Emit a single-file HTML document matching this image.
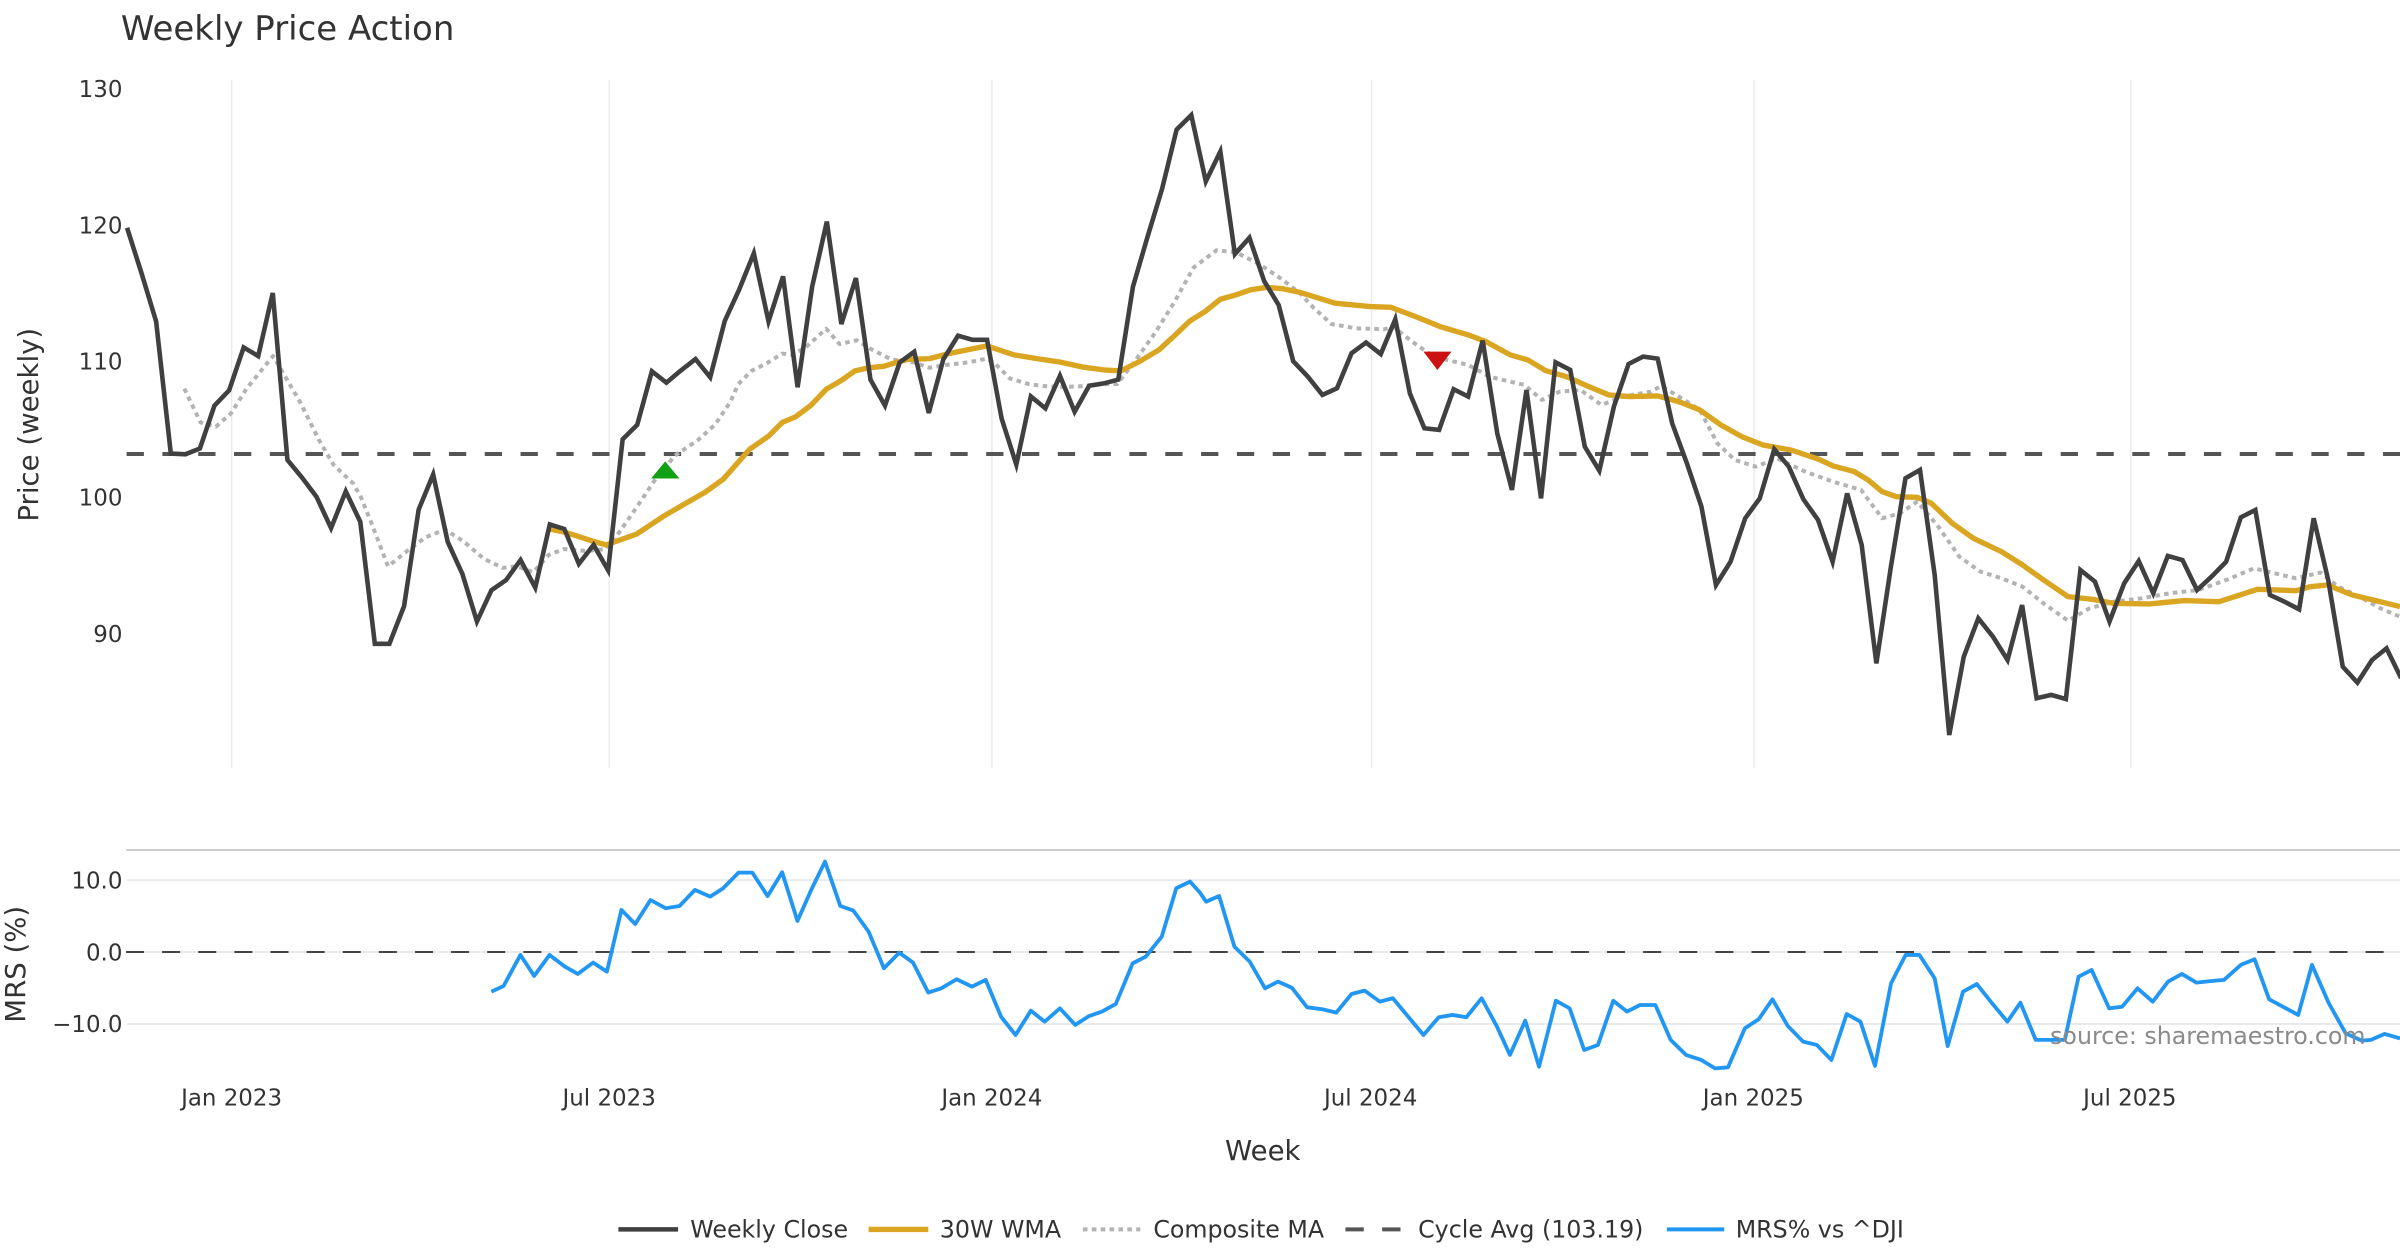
<!DOCTYPE html>
<html>
<head>
<meta charset="utf-8">
<style>
  html, body { margin: 0; padding: 0; background: #ffffff; }
  svg { display: block; }
  text { font-family: "DejaVu Sans", "Liberation Sans", sans-serif; }
</style>
</head>
<body>
<svg xmlns="http://www.w3.org/2000/svg" width="2400" height="1260" viewBox="0 0 1568 823.2">
  <rect x="0" y="0" width="1568" height="823.2" fill="#ffffff"/>

  <!-- Title -->
  <text x="79" y="26" font-size="22.2" fill="#333333">Weekly Price Action</text>

  <!-- Price panel vertical grid -->
  <g stroke="#e9ebef" stroke-width="1">
    <line x1="151.3" y1="52" x2="151.3" y2="502"/>
    <line x1="398" y1="52" x2="398" y2="502"/>
    <line x1="648" y1="52" x2="648" y2="502"/>
    <line x1="896" y1="52" x2="896" y2="502"/>
    <line x1="1146" y1="52" x2="1146" y2="502"/>
    <line x1="1392" y1="52" x2="1392" y2="502"/>
  </g>

  <!-- Price y tick labels -->
  <g font-size="15" fill="#333333" text-anchor="end">
    <text x="80" y="63.4">130</text>
    <text x="80" y="152.4">120</text>
    <text x="80" y="241.4">110</text>
    <text x="80" y="330.4">100</text>
    <text x="80" y="419.4">90</text>
  </g>
  <text transform="translate(24.7,277.5) rotate(-90)" text-anchor="middle" font-size="18" fill="#333333">Price (weekly)</text>

  <!-- Cycle average dashed -->
  <line x1="82.7" y1="296.6" x2="1568" y2="296.6" stroke="#555555" stroke-width="2.6" stroke-dasharray="11.3 12.1"/>

  <!-- Composite MA (dotted) -->
  <polyline fill="none" stroke="#b3b3b3" stroke-width="2.6" stroke-dasharray="3 2.8" stroke-linejoin="round"
    points="120.4,253.9 131,276 141,278.8 151,270 161,254 178.4,232.6 183.4,241 196,262.6 208.4,287.5 218,303.8 230.9,316 235.9,325 243,342.6 253.5,370 266,360 278,351 290.9,346 303,353.8 316,365 328.4,371 338,370 348.4,373.9 358.4,362.6 368.4,358.7 383.5,360 396,358.7 403,350 413.5,335 428.6,312.6 441,297.6 456,287.5 467.3,277.3 477.3,262.3 482.3,251 491,242.3 501,237.3 511,231 517.3,231.8 526,227.3 539.8,214.8 548.5,224.8 559.8,222.3 569.8,228.5 582.3,234.8 597.3,236.8 607.3,240.3 617.3,238.5 632.3,236.8 644.8,234.3 649.8,237.3 659.8,247.3 672.3,251 682.3,252.3 694.8,252.8 707.3,252.3 719.8,251 729.8,251 742.3,234.8 754.8,217.3 767.3,197.3 779.8,174.8 794.8,163.5 807.3,164.8 822.3,172.3 837.3,182.3 849.3,191.6 858.5,201.4 869.9,211.7 886,214.5 904.3,215.1 910.3,213.4 922.6,223.2 934.1,231.3 945.5,235.2 959.3,238.4 973,246.1 996,251.5 1007.4,261.3 1018.9,255.9 1032.6,254.8 1046.4,264.6 1060.1,259.1 1078.5,255.9 1085.3,252.2 1096.8,259.1 1110.5,267.8 1122,289.6 1133.4,300.5 1147.2,304.9 1160.9,299.4 1179.3,308.1 1197.6,314.7 1215.9,320.1 1229.7,338.6 1241.2,335.4 1252.6,327.7 1266.4,344.1 1280.1,363.7 1293.9,373.5 1307.6,377.8 1321.4,383.3 1335.1,394.2 1351.1,405.5 1365.3,397.4 1381,393.1 1399.3,390.9 1417.6,387.6 1436,385.5 1454.3,379 1472.6,371.3 1486.4,374.6 1500.1,377.8 1516.1,374.1 1527.6,383.3 1541.4,389.8 1555.1,397.4 1568,402.9"/>

  <!-- 30W WMA -->
  <polyline fill="none" stroke="#daa520" stroke-width="3.5" stroke-linejoin="round" stroke-linecap="butt"
    points="358.9,345.6 368.5,347.6 378,350.5 387,353.5 396,356 416,348.9 433,337.6 448,328.8 461,321.4 472.6,313 489.8,293.5 502.3,284.8 511,276 519.8,272.3 529.8,264.8 539.8,254.3 549.8,248.5 558.6,242.3 567.3,240.3 577.3,239.3 592.3,234.8 607.3,234.3 619.8,231 632.3,228.5 644.8,226 652.3,228.5 662.3,231.8 677.3,234.3 692.3,236.5 707.3,239.8 722.3,241.8 732.3,242.3 744.8,236 757.3,228.5 767.3,219.3 777.4,209.7 787.3,203.5 797.3,195.5 807.3,192.7 817.3,189.3 827.3,187.8 837.3,188.5 849.3,191 872.2,198.1 895.1,200.3 908.9,200.8 924.9,206.9 941,213.4 959.3,218.8 970.8,223.2 986.8,231.9 998.3,235.2 1009.7,242.1 1023.5,246.1 1037.2,252.2 1051,258 1064.7,259.1 1083,258.7 1096.8,262.4 1110.5,267.8 1124.3,277.6 1138,285.3 1151.8,290.7 1170.1,294 1188.4,300.1 1197.6,304.4 1211.4,308.1 1220.5,313.6 1229.7,321.2 1238.9,324.5 1252.6,324.9 1261.8,328.8 1275.5,341.9 1289.3,351.7 1307.6,360.4 1321.4,369.1 1335.1,378.9 1351.1,389.8 1367.2,391.6 1381,394.2 1403.9,394.6 1426.8,392.4 1449.7,393.1 1463.5,388.7 1474.9,385 1500.1,385.9 1509.3,383.3 1520.7,382.2 1536.7,388.7 1550.5,392 1568,396.3"/>

  <!-- Weekly Close -->
  <polyline fill="none" stroke="#404040" stroke-width="3" stroke-linejoin="miter" stroke-miterlimit="4"
    points="83,148.8 92.5,178.6 102,210 111.6,296.3 121.1,296.8 130.6,293 140.1,265 149.7,255 159.2,227 168.7,232.6 178.2,191.4 187.8,300.5 197.3,312 206.8,324.6 216.3,345 225.9,321 235.4,341 244.9,420.6 254.4,420.6 264,396 273.5,333 283,310 292.5,354 302.1,375 311.6,406 321.1,385.6 330.6,379 340.1,365.9 349.7,383.9 359.2,342.6 368.7,345.6 378.2,368.4 387.8,356 397.3,372.6 406.8,287 416.3,277.6 425.9,242.6 435.4,250 444.9,242 454.4,234.6 464,246.5 473.5,209.7 483,189 492.5,165.5 502.1,210 511.6,180.5 521.1,253 530.6,187.3 540.2,144.8 549.7,211.7 559.2,181.7 568.7,248 578.2,265 587.8,236.8 597.3,229.8 606.8,269.8 616.3,234.8 625.9,219.3 635.4,222 644.9,222 654.4,273.5 664,303.5 673.5,259 683,266.8 692.5,245.5 702.1,269 711.6,252 721.1,250.5 730.6,248 740.2,187.3 749.7,154.8 759.2,123.5 768.7,84.7 778.3,75.2 787.8,118.5 797.3,99 806.8,166 816.3,155.3 825.9,183.6 835.4,199.3 844.9,236 854.4,246 864,258 873.5,253.7 883,230.8 892.5,223.8 902.1,231.3 911.6,208.6 921.1,257 930.6,279.8 940.2,280.9 949.7,254.3 959.2,259.1 968.7,222.5 978.2,283.1 987.8,320.1 997.3,254.8 1006.8,325.6 1016.3,236.7 1025.9,241.7 1035.4,291.8 1044.9,307.5 1054.4,265.7 1064,237.8 1073.5,233 1083,234.3 1092.5,276.6 1102.1,302.7 1111.6,331 1121.1,382.2 1130.6,367 1140.2,338.6 1149.7,325.6 1159.2,293.5 1168.7,304.9 1178.2,326.2 1187.8,339.7 1197.3,367 1206.8,322.3 1216.3,356 1225.9,433.4 1235.4,370.2 1244.9,312.5 1254.4,307 1264,375.7 1273.5,480.2 1283,429 1292.5,404 1302.1,416 1311.6,431.2 1321.1,395.3 1330.6,456.2 1340.2,454 1349.7,456.7 1359.2,372.4 1368.7,380 1378.2,406.1 1387.8,381.1 1397.3,366.5 1406.8,387.6 1416.3,363.2 1425.9,365.9 1435.4,385.5 1444.9,376.7 1454.4,367 1464,338 1473.5,333.2 1483,388.7 1492.5,393.1 1502.1,398.1 1511.6,338.6 1521.1,378.9 1530.6,435.6 1540.2,446 1549.7,431.2 1559.2,423.6 1568.7,443"/>

  <!-- Signal markers -->
  <polygon points="425.4,312.6 443.9,312.6 434.6,301.4" fill="#14a014"/>
  <polygon points="930,229.7 948.3,229.7 939.1,241.7" fill="#cc1111"/>

  <!-- MRS panel -->
  <line x1="82.5" y1="555.3" x2="1568" y2="555.3" stroke="#cccccc" stroke-width="1.3"/>
  <g stroke="#e8eaee" stroke-width="1.3">
    <line x1="83" y1="575" x2="1568" y2="575"/>
    <line x1="83" y1="622" x2="1568" y2="622"/>
    <line x1="83" y1="669" x2="1568" y2="669"/>
  </g>
  <line x1="82.3" y1="622" x2="1568" y2="622" stroke="#444444" stroke-width="1.3" stroke-dasharray="11.8 11.8"/>

  <g font-size="15" fill="#333333" text-anchor="end">
    <text x="80" y="580.4">10.0</text>
    <text x="80" y="627.4">0.0</text>
    <text x="80" y="674.4">−10.0</text>
  </g>
  <text transform="translate(16.3,630) rotate(-90)" text-anchor="middle" font-size="18" fill="#333333">MRS (%)</text>

  <polyline fill="none" stroke="#2196f3" stroke-width="2.5" stroke-linejoin="round"
    points="321,647.9 329,644.2 340,623.9 349,637.6 359,623.9 369,631.5 377.5,636.3 387.5,628.9 396.5,634.8 406,594.5 415,603.7 425,588 435,593.4 444,591.9 454,581.4 464,585.8 472.5,580.3 482.5,570.1 491.5,570.1 501.5,585.4 511,569.9 521,601.7 530,581.4 539,562.9 549,591.9 557.5,594.9 567.5,608.7 577.5,632.6 587.5,622.4 596.5,628.9 606.5,648.5 615,645.7 625,639.8 635,644.6 644,640.2 654,664.2 663.5,676.2 673.5,660.3 682.5,667.5 692.5,658.8 702.5,669.6 711.5,663.8 720,660.9 729,655.9 740,629.4 748.5,625 759,612 768.5,580.3 777.5,576 784,583.2 788,589.1 796.5,585.4 806.5,618.5 816.5,628.3 826.5,645.7 835,641.3 844,645.3 854,658.1 864,659.4 873,661.6 883,649.4 891.5,647.2 901.5,654.4 910,652.2 920,664.2 930,676.2 940,664.6 949,663.1 958,664.6 968,652.2 978,670.7 986.5,689.2 996.5,666.8 1005.5,696.9 1016.5,653.8 1025.5,658.8 1035,686 1044,682.7 1054,653.8 1063,660.9 1071.5,656.6 1081.5,656.6 1091.5,679.4 1101.5,689.2 1111.5,692.5 1120.5,698 1129,697.3 1140,671.8 1149,665.9 1158,652.9 1168,670.3 1178,680.5 1187,682.7 1196.5,692.5 1206.5,662.5 1215.5,667.5 1225,696.4 1235.5,642.4 1245,623.9 1254,623.9 1264,639.2 1272.5,683.4 1282.5,647.9 1291.5,642.9 1301.5,655.5 1311.5,667.5 1320,655.1 1330,679.4 1339,679.4 1349,679.4 1358,638.1 1366.5,633.7 1378,658.8 1386.5,657.7 1396.5,645.7 1406.5,654.4 1416.5,641.3 1425.5,636.3 1435,642 1444,641 1453,640.2 1464,630.4 1473,626.7 1482.5,652.9 1491.5,657.7 1501.5,663.1 1510.5,630.4 1521.5,655.5 1532.5,675.1 1543,679.9 1549,679.4 1558,675.5 1568,678.4"/>

  <!-- Source watermark -->
  <text x="1545.5" y="682" text-anchor="end" font-size="15.5" fill="#8a8a8a">source: sharemaestro.com</text>

  <!-- X tick labels -->
  <g font-size="15" fill="#333333" text-anchor="middle">
    <text x="151.3" y="722.4">Jan 2023</text>
    <text x="398" y="722.4">Jul 2023</text>
    <text x="648" y="722.4">Jan 2024</text>
    <text x="895.5" y="722.4">Jul 2024</text>
    <text x="1145.5" y="722.4">Jan 2025</text>
    <text x="1391.5" y="722.4">Jul 2025</text>
  </g>
  <text x="825" y="758" text-anchor="middle" font-size="18" fill="#333333">Week</text>

  <!-- Legend -->
  <line x1="404" y1="803.2" x2="443" y2="803.2" stroke="#404040" stroke-width="3"/>
  <text x="451" y="808.5" font-size="15.5" fill="#333333">Weekly Close</text>
  <line x1="567.5" y1="803.2" x2="606.5" y2="803.2" stroke="#daa520" stroke-width="3.5"/>
  <text x="614" y="808.5" font-size="15.5" fill="#333333">30W WMA</text>
  <line x1="707.5" y1="803.2" x2="745" y2="803.2" stroke="#b3b3b3" stroke-width="2.6" stroke-dasharray="3 2.8"/>
  <text x="753.5" y="808.5" font-size="15.5" fill="#333333">Composite MA</text>
  <line x1="879" y1="803.2" x2="916" y2="803.2" stroke="#555555" stroke-width="2.6" stroke-dasharray="12 12"/>
  <text x="926.5" y="808.5" font-size="15.5" fill="#333333">Cycle Avg (103.19)</text>
  <line x1="1089" y1="803.2" x2="1126.5" y2="803.2" stroke="#2196f3" stroke-width="2.6"/>
  <text x="1134" y="808.5" font-size="15.5" fill="#333333">MRS% vs ^DJI</text>
</svg>
</body>
</html>
